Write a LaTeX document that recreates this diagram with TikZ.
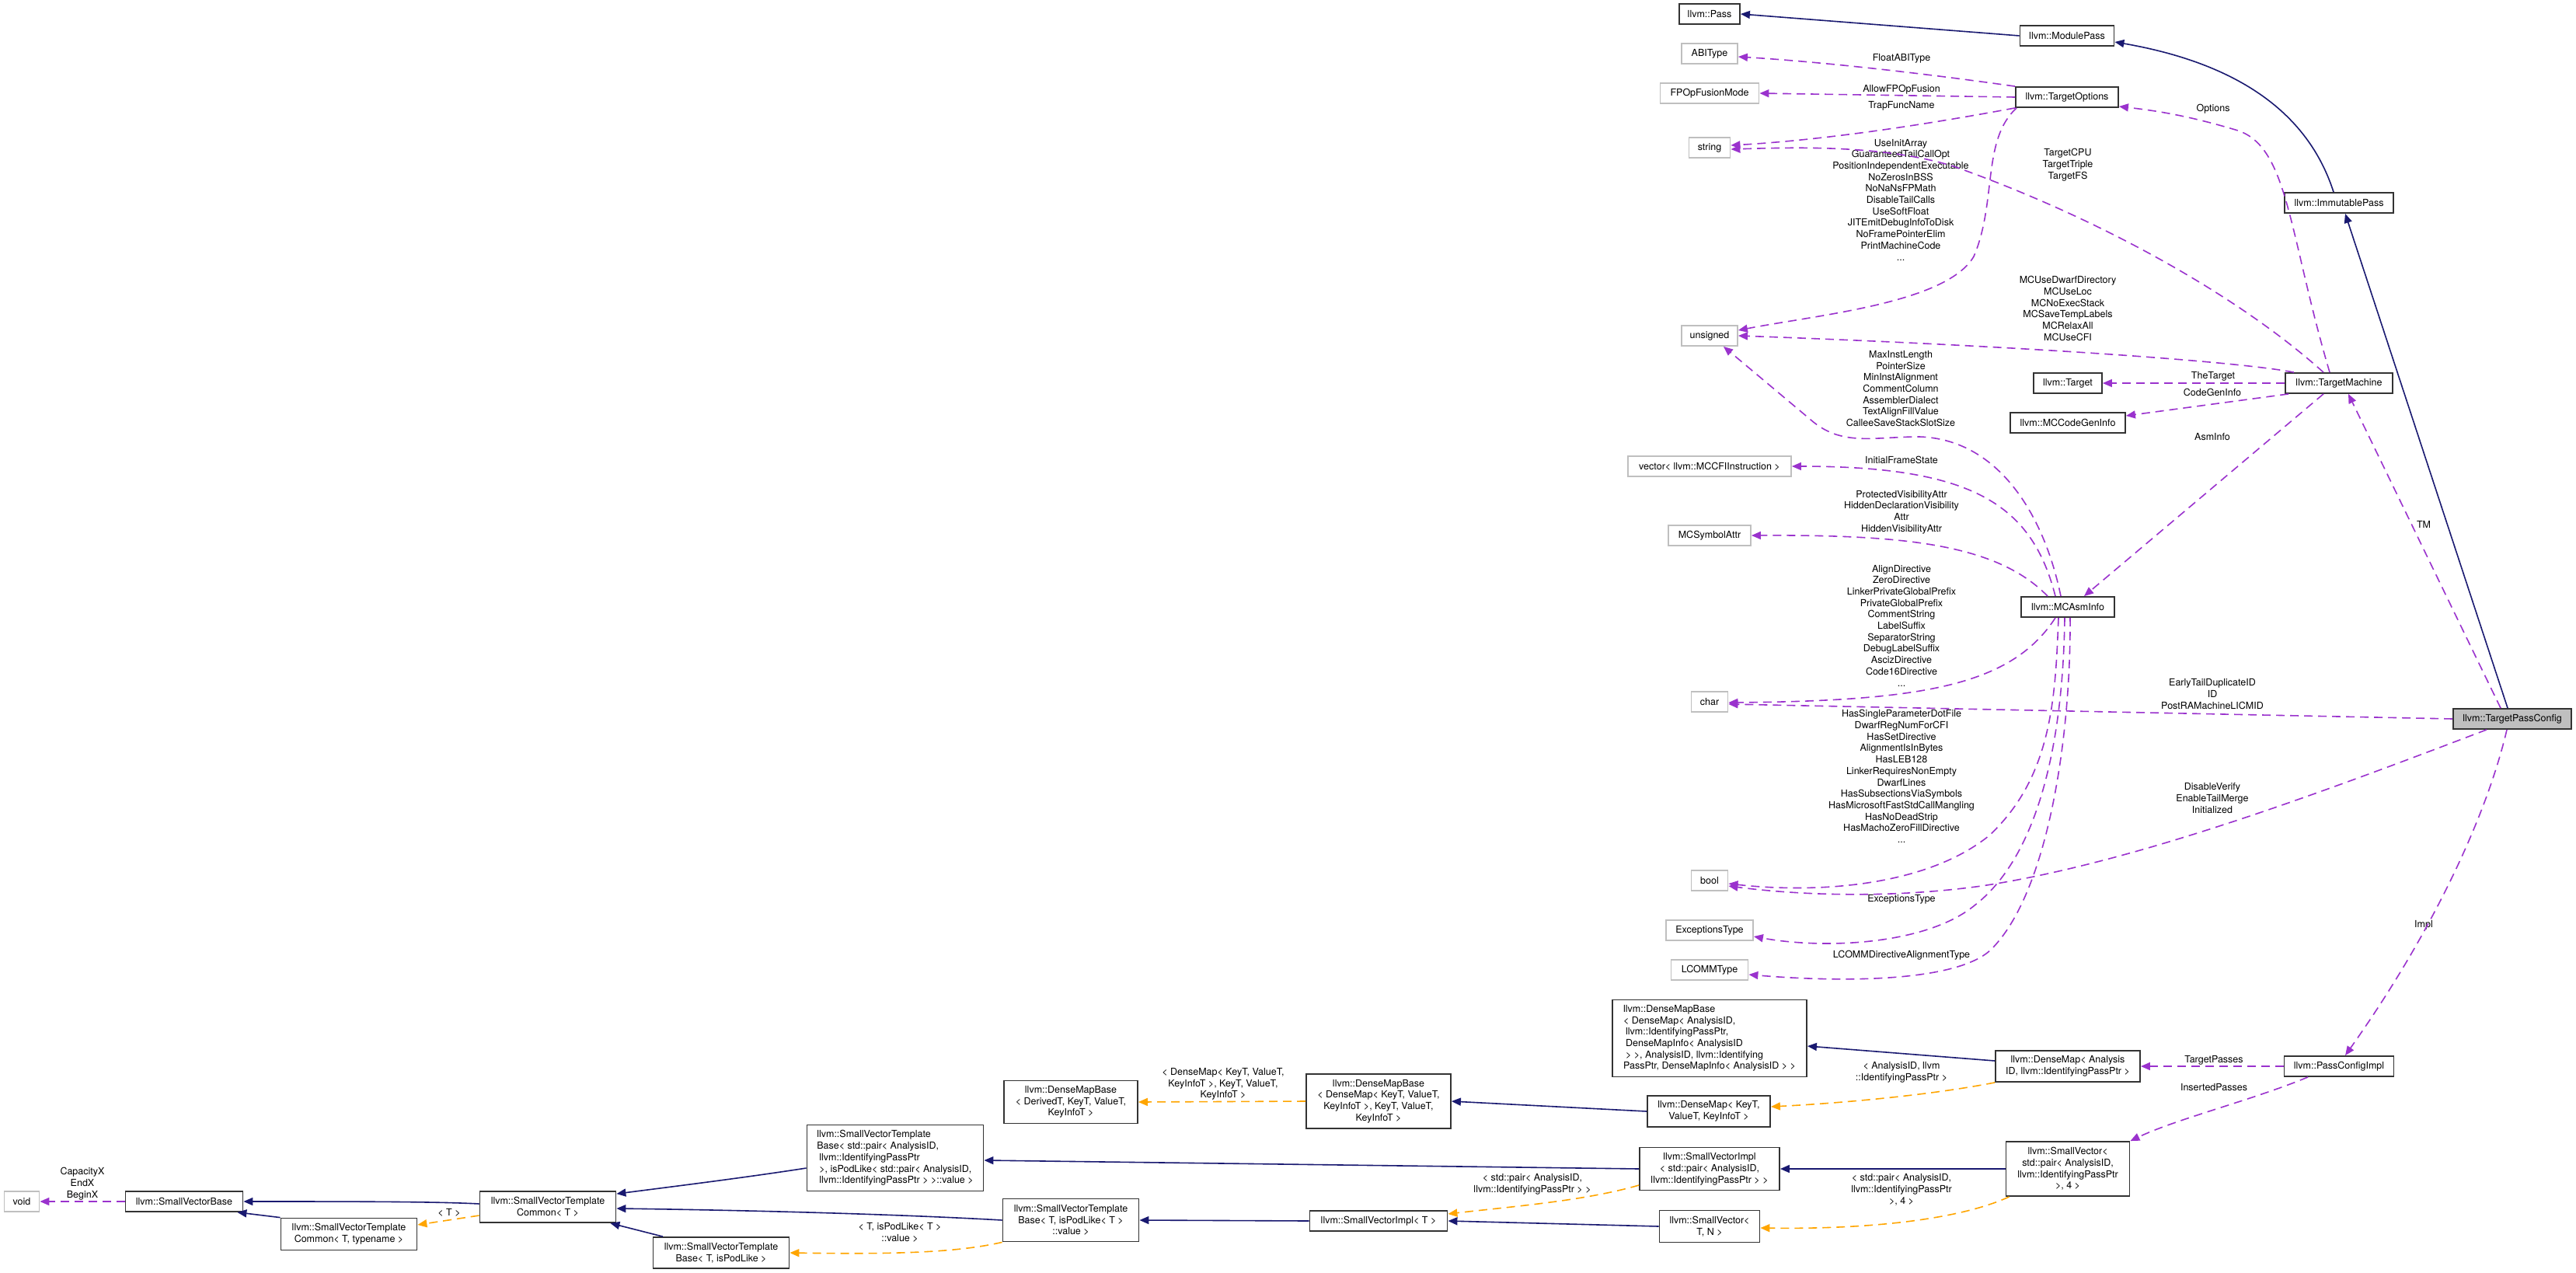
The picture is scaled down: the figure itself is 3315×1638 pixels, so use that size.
\documentclass[tikz,border=0pt]{standalone}
\usepackage{fontspec}
\setmainfont{TeX Gyre Heros}
\usetikzlibrary{arrows.meta}
\definecolor{navy}{HTML}{191970}
\definecolor{orchid}{HTML}{9A32CD}
\definecolor{orng}{HTML}{FFA500}
\definecolor{boxgray}{HTML}{BFBFBF}
\begin{document}
\begin{tikzpicture}[x=1pt,y=-1pt,
  font=\fontsize{12.5}{14.7}\selectfont,
  cls/.style={draw=black!80, line width=1.8pt, fill=white, inner sep=0pt, align=center, minimum height=26pt},
  ext/.style={draw=boxgray, line width=1.8pt, fill=white, inner sep=0pt, align=center, minimum height=26pt},
  cur/.style={cls, fill=boxgray},
  tip/.style={-{Triangle[length=12pt,width=10pt]}},
  inh/.style={navy, line width=1.6pt, tip},
  use/.style={orchid, line width=1.6pt, dash pattern=on 11pt off 7pt, tip},
  tmpl/.style={orng, line width=1.6pt, dash pattern=on 11pt off 7pt, tip},
  lbl/.style={align=center, inner sep=0pt}]
\useasboundingbox (0,0) rectangle (3315,1638);

% ---------- nodes ----------
\node[cls, minimum width=78pt]  (pass)    at (2200,18)  {llvm::Pass};
\node[cls, minimum width=121pt] (modpass) at (2660,46)  {llvm::ModulePass};
\node[ext, minimum width=72pt]  (abi)     at (2200,69)  {ABIType};
\node[ext, minimum width=127pt] (fpop)    at (2200,120) {FPOpFusionMode};
\node[cls, minimum width=132pt] (topt)    at (2660,125) {llvm::TargetOptions};
\node[ext, minimum width=53pt]  (string)  at (2200,190) {string};
\node[cls, minimum width=140pt] (imm)     at (3010,261) {llvm::ImmutablePass};
\node[ext, minimum width=72pt]  (unsigned) at (2200,432) {unsigned};
\node[cls, minimum width=88pt]  (target)  at (2661,493) {llvm::Target};
\node[cls, minimum width=138pt] (tm)      at (3010,493) {llvm::TargetMachine};
\node[cls, minimum width=148pt] (mccg)    at (2661,544) {llvm::MCCodeGenInfo};
\node[ext, minimum width=210pt] (vec)     at (2200,600) {vector< llvm::MCCFIInstruction >};
\node[ext, minimum width=106pt] (msa)     at (2200,689) {MCSymbolAttr};
\node[cls, minimum width=120pt] (mcai)    at (2661,781) {llvm::MCAsmInfo};
\node[ext, minimum width=47pt]  (char)    at (2200,903) {char};
\node[cur, minimum width=152pt] (tpc)     at (3233,925) {llvm::TargetPassConfig};
\node[ext, minimum width=47pt]  (bool)    at (2200,1133) {bool};
\node[ext, minimum width=112pt] (exc)     at (2200,1197) {ExceptionsType};
\node[ext, minimum width=99pt]  (lcomm)   at (2200,1248) {LCOMMType};
\node[cls, align=left, minimum width=250pt, minimum height=99pt] (dmbbig) at (2200,1336)
  {llvm::DenseMapBase\\< DenseMap< AnalysisID,\\\hspace*{3pt}llvm::IdentifyingPassPtr,\\\hspace*{3pt}DenseMapInfo< AnalysisID\\\hspace*{3pt}> >, AnalysisID, llvm::Identifying\\PassPtr, DenseMapInfo< AnalysisID > >};
\node[cls, minimum width=172pt, minimum height=55pt] (dmbd) at (1378,1418)
  {llvm::DenseMapBase\\< DerivedT, KeyT, ValueT,\\ KeyInfoT >};
\node[cls, minimum width=186pt, minimum height=70pt] (dmbk) at (1774,1417)
  {llvm::DenseMapBase\\< DenseMap< KeyT, ValueT,\\ KeyInfoT >, KeyT, ValueT,\\ KeyInfoT >};
\node[cls, minimum width=158pt, minimum height=40pt] (dmk) at (2199,1430)
  {llvm::DenseMap< KeyT,\\ ValueT, KeyInfoT >};
\node[cls, minimum width=186pt, minimum height=40pt] (dma) at (2661,1372)
  {llvm::DenseMap< Analysis\\ID, llvm::IdentifyingPassPtr >};
\node[cls, minimum width=141pt] (pci) at (3010,1372) {llvm::PassConfigImpl};
\node[cls, minimum width=159pt, minimum height=70pt] (svp) at (2661,1504)
  {llvm::SmallVector<\\ std::pair< AnalysisID,\\ llvm::IdentifyingPassPtr\\ >, 4 >};
\node[cls, minimum width=180pt, minimum height=55pt] (svip) at (2200,1504)
  {llvm::SmallVectorImpl\\< std::pair< AnalysisID,\\ llvm::IdentifyingPassPtr > >};
\node[cls, minimum width=129pt, minimum height=41pt] (svtn) at (2200,1578)
  {llvm::SmallVector<\\ T, N >};
\node[cls, minimum width=177pt] (svit) at (1774,1571) {llvm::SmallVectorImpl< T >};
\node[cls, minimum width=175pt, minimum height=55pt] (svtbv) at (1378,1570)
  {llvm::SmallVectorTemplate\\Base< T, isPodLike< T >\\ ::value >};
\node[cls, align=left, minimum width=227pt, minimum height=85pt] (svtbp) at (1152,1490)
  {llvm::SmallVectorTemplate\\Base< std::pair< AnalysisID,\\\hspace*{3pt}llvm::IdentifyingPassPtr\\\hspace*{3pt}>, isPodLike< std::pair< AnalysisID,\\\hspace*{3pt}llvm::IdentifyingPassPtr > >::value >};
\node[cls, minimum width=175pt, minimum height=40pt] (svtc) at (705,1553)
  {llvm::SmallVectorTemplate\\Common< T >};
\node[cls, minimum width=175pt, minimum height=41pt] (svtct) at (449,1588)
  {llvm::SmallVectorTemplate\\Common< T, typename >};
\node[cls, minimum width=175pt, minimum height=40pt] (svtbi) at (928,1612)
  {llvm::SmallVectorTemplate\\Base< T, isPodLike >};
\node[cls, minimum width=151pt] (svb) at (237,1546) {llvm::SmallVectorBase};
\node[ext, minimum width=45pt] (void) at (28,1546) {void};

% ---------- labels ----------
\node[lbl] (lfloat) at (2447,75)  {FloatABIType};
\node[lbl] (lallow) at (2447,115) {AllowFPOpFusion};
\node[lbl] (ltrap)  at (2447,136) {TrapFuncName};
\node[lbl] (lbits)  at (2446,257) {UseInitArray\\GuaranteedTailCallOpt\\PositionIndependentExecutable\\NoZerosInBSS\\NoNaNsFPMath\\DisableTailCalls\\UseSoftFloat\\JITEmitDebugInfoToDisk\\NoFramePointerElim\\PrintMachineCode\\...};
\node[lbl] (lcpu)   at (2661,212) {TargetCPU\\TargetTriple\\TargetFS};
\node[lbl] (lopt)   at (2848,140) {Options};
\node[lbl] (lmcuse) at (2661,397) {MCUseDwarfDirectory\\MCUseLoc\\MCNoExecStack\\MCSaveTempLabels\\MCRelaxAll\\MCUseCFI};
\node[lbl] (lmax)   at (2446,500) {MaxInstLength\\PointerSize\\MinInstAlignment\\CommentColumn\\AssemblerDialect\\TextAlignFillValue\\CalleeSaveStackSlotSize};
\node[lbl] (ltgt)   at (2848,484) {TheTarget};
\node[lbl] (lcgi)   at (2847,505) {CodeGenInfo};
\node[lbl] (lasm)   at (2847,562) {AsmInfo};
\node[lbl] (lifs)   at (2447,592) {InitialFrameState};
\node[lbl] (lvis)   at (2447,659) {ProtectedVisibilityAttr\\HiddenDeclarationVisibility\\Attr\\HiddenVisibilityAttr};
\node[lbl] (lalign) at (2447,805) {AlignDirective\\ZeroDirective\\LinkerPrivateGlobalPrefix\\PrivateGlobalPrefix\\CommentString\\LabelSuffix\\SeparatorString\\DebugLabelSuffix\\AscizDirective\\Code16Directive\\...};
\node[lbl] (lhas)   at (2447,999) {HasSingleParameterDotFile\\DwarfRegNumForCFI\\HasSetDirective\\AlignmentIsInBytes\\HasLEB128\\LinkerRequiresNonEmpty\hspace*{52pt}\\DwarfLines\\HasSubsectionsViaSymbols\\HasMicrosoftFastStdCallMangling\\HasNoDeadStrip\\HasMachoZeroFillDirective\\...};
\node[lbl] (ltm)    at (3119,675) {TM};
\node[lbl] (learly) at (2847,893) {EarlyTailDuplicateID\\ID\\PostRAMachineLICMID};
\node[lbl] (ldis)   at (2847,1027) {DisableVerify\\EnableTailMerge\\Initialized};
\node[lbl] (lexc)   at (2447,1157) {ExceptionsType};
\node[lbl] (llcomm) at (2447,1229) {LCOMMDirectiveAlignmentType};
\node[lbl] (limpl)  at (3119,1190) {Impl};
\node[lbl] (ltp)    at (2849,1364) {TargetPasses};
\node[lbl] (lip)    at (2849,1399) {InsertedPasses};
\node[lbl] (ldma)   at (2447,1380) {< AnalysisID, llvm\\::IdentifyingPassPtr >};
\node[lbl] (lsvp)   at (2447,1531) {< std::pair< AnalysisID,\\llvm::IdentifyingPassPtr\\>, 4 >};
\node[lbl] (lsvip)  at (1972,1524) {< std::pair< AnalysisID,\\llvm::IdentifyingPassPtr > >};
\node[lbl] (ldmbk)  at (1574,1395) {< DenseMap< KeyT, ValueT,\\KeyInfoT >, KeyT, ValueT,\\KeyInfoT >};
\node[lbl] (lsvtbv) at (1158,1586) {< T, isPodLike< T >\\::value >};
\node[lbl] (lsvtc)  at (578,1560)  {< T >};
\node[lbl] (lsvb)   at (106,1523)  {CapacityX\\EndX\\BeginX};

% ---------- inheritance ----------
\draw[inh] (modpass.west) -- (pass.east);
\draw[inh] ([xshift=-7pt]imm.north) .. controls (2975,160) and (2900,85) .. ([yshift=-8pt]modpass.east);
\draw[inh] ([xshift=-6pt]tpc.north) -- ([xshift=8pt]imm.south);
\draw[inh] ([yshift=4pt]svtc.west) .. controls (560,1546) and (450,1546) .. (svb.east);
\draw[inh] (svtct.north west) -- ([xshift=-8pt]svb.south east);
\draw[inh] ([yshift=-13pt]svtbp.west) .. controls (960,1515) and (880,1525) .. ([yshift=-4pt]svtc.north east);
\draw[inh] (svip.west) -- ([yshift=-3pt]svtbp.east);
\draw[inh] (svtbv.west) .. controls (1150,1562) and (950,1557) .. ([yshift=-2pt]svtc.east);
\draw[inh] ([xshift=-75pt]svtbi.north) -- ([xshift=-8pt]svtc.south east);
\draw[inh] (svit.west) -- (svtbv.east);
\draw[inh] (svtn.west) -- (svit.east);
\draw[inh] (dmk.west) -- (dmbk.east);
\draw[inh] ([yshift=7pt]dma.west) -- ([yshift=-10pt]dmbbig.east);
\draw[inh] (svp.west) -- (svip.east);

% ---------- template instances ----------
\draw[tmpl] ([yshift=-11pt]svtc.west) -- ([yshift=12pt]svtct.east);
\draw[tmpl] (svtbv.south west) .. controls (1230,1612) and (1150,1614) .. (svtbi.east);
\draw[tmpl] (dmbk.west) -- (dmbd.east);
\draw[tmpl] ([yshift=-21pt]svip.west) .. controls (2040,1545) and (1950,1552) .. ([yshift=9pt]svit.east);
\draw[tmpl] (dma.south west) .. controls (2480,1410) and (2360,1420) .. ([yshift=6pt]dmk.east);
\draw[tmpl] ([xshift=5pt]svp.south west) .. controls (2520,1570) and (2400,1582) .. ([yshift=-2pt]svtn.east);

% ---------- usage ----------
\draw[use] (topt.north west) .. controls (2480,95) and (2350,80) .. ([yshift=-4pt]abi.east);
\draw[use] (topt.west) -- (fpop.east);
\draw[use] (topt.south west) .. controls (2480,160) and (2350,180) .. ([yshift=3pt]string.east);
\draw[use] ([xshift=2pt]topt.south west) .. controls (2550,180) and (2570,260) .. (2540,330)
   .. controls (2505,390) and (2340,405) .. ([yshift=7pt]unsigned.east);
\draw[use] ([xshift=-12pt]tm.north) .. controls (2945,300) and (2945,190) .. (2880,168)
   .. controls (2820,150) and (2780,143) .. ([yshift=-12pt]topt.east);
\draw[use] ([xshift=-20pt]tm.north) .. controls (2880,380) and (2700,280) .. (2514,214)
   .. controls (2420,185) and (2300,190) .. ([yshift=-2pt]string.east);
\draw[use] ([xshift=-58pt]tm.north) .. controls (2880,465) and (2600,445) .. (unsigned.east);
\draw[use] (tm.west) -- (target.east);
\draw[use] ([xshift=5pt]tm.south west) -- ([yshift=9pt]mccg.east);
\draw[use] ([xshift=-20pt]tm.south) -- ([xshift=21pt]mcai.north);
\draw[use] ([xshift=-15pt]tpc.north) -- ([xshift=12pt]tm.south);
\draw[use] ([xshift=-9pt]mcai.north) .. controls (2630,660) and (2570,565) .. (2470,562)
   .. controls (2410,562) and (2370,575) .. (2330,540) -- ([xshift=18pt]unsigned.south);
\draw[use] ([xshift=-16pt]mcai.north) .. controls (2615,650) and (2540,600) .. (vec.east);
\draw[use] ([xshift=-26pt]mcai.north) .. controls (2570,700) and (2450,688) .. (msa.east);
\draw[use] ([xshift=-16pt]mcai.south) .. controls (2590,880) and (2480,902) .. ([yshift=-1pt]char.east);
\draw[use] (tpc.west) -- ([yshift=-3pt]char.east);
\draw[use] ([xshift=-12pt]mcai.south) .. controls (2645,900) and (2640,1000) .. (2560,1075)
   .. controls (2480,1140) and (2340,1150) .. ([yshift=-4pt]bool.east);
\draw[use] ([xshift=-4pt]mcai.south) .. controls (2655,950) and (2625,1100) .. (2541,1165)
   .. controls (2480,1215) and (2350,1222) .. ([yshift=-8pt]exc.east);
\draw[use] ([xshift=3pt]mcai.south) .. controls (2665,950) and (2635,1150) .. (2562,1222)
   .. controls (2520,1262) and (2380,1265) .. ([yshift=-6pt]lcomm.east);
\draw[use] ([xshift=-33pt]tpc.south) .. controls (3000,1015) and (2750,1110) .. (2550,1140)
   .. controls (2420,1158) and (2300,1150) .. ([yshift=-7pt]bool.east);
\draw[use] ([xshift=-7pt]tpc.south) .. controls (3200,1050) and (3130,1200) .. ([xshift=8pt]pci.north);
\draw[use] (pci.west) -- (dma.east);
\draw[use] ([xshift=-40pt]pci.south) .. controls (2900,1415) and (2800,1440) .. (svp.north east);
\draw[use] (svb.west) -- (void.east);
\end{tikzpicture}
\end{document}
